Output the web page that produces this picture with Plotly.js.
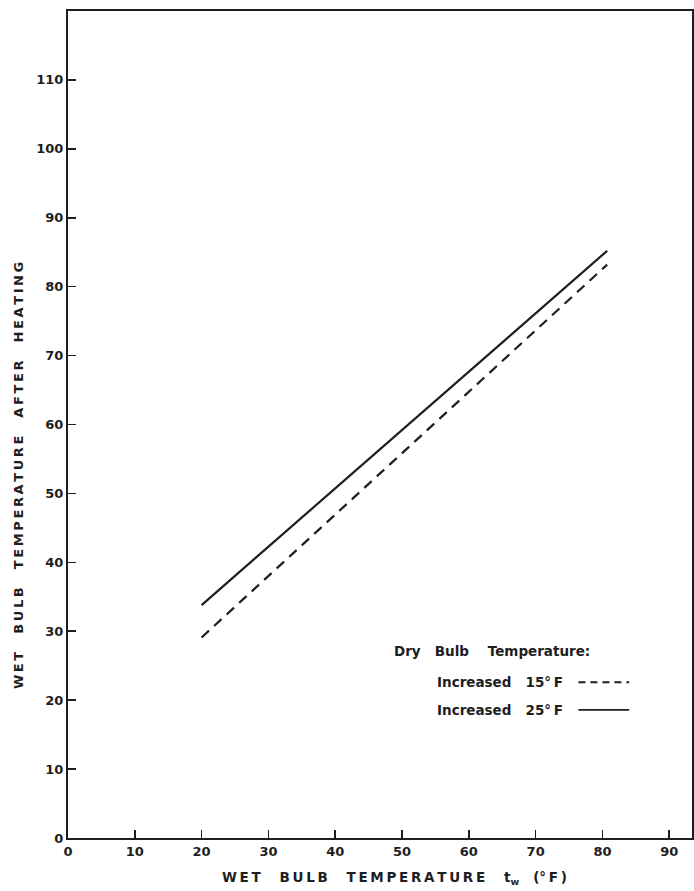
<!DOCTYPE html>
<html>
<head>
<meta charset="utf-8">
<script src="https://cdn.plot.ly/plotly-3.0.1.min.js"></script>
<style>html,body{margin:0;padding:0;background:#fff;}#chart{width:694px;height:891px;}</style>
</head>
<body>
<div id="chart"></div>
<script>
// Data
const wetBulbIn = [20, 80.7];
const afterHeating15 = [29.1, 83.2];
const afterHeating25 = [33.8, 85.2];
const xTickVals = [0, 10, 20, 30, 40, 50, 60, 70, 80, 90];
const yTickVals = [0, 10, 20, 30, 40, 50, 60, 70, 80, 90, 100, 110];
const legendTitle = "Dry\u00a0\u00a0\u00a0Bulb\u00a0\u00a0\u00a0\u00a0Temperature:";
const seriesLabels = ["Increased\u00a0\u00a0\u00a015\u00b0\u2009F", "Increased\u00a0\u00a0\u00a025\u00b0\u2009F"];

const ink = "#1e1e1e";
const fam = "DejaVu Sans, sans-serif";

function spaced(s) {
  return s.split(" ").map(w => w.split("").join("\u2009")).join("\u00a0\u00a0\u00a0\u00a0");
}

const traces = [
  {x: wetBulbIn, y: afterHeating15, mode: "lines", name: seriesLabels[0],
   line: {color: ink, width: 2.2, dash: "10px,7px"}, showlegend: false},
  {x: wetBulbIn, y: afterHeating25, mode: "lines", name: seriesLabels[1],
   line: {color: ink, width: 2.2}, showlegend: false}
];

const layout = {
  width: 694, height: 891,
  margin: {l: 68, r: 2, t: 11, b: 53},
  paper_bgcolor: "#fff", plot_bgcolor: "#fff",
  font: {family: fam, color: ink, size: 12},
  xaxis: {
    range: [0, 93.4], tickvals: xTickVals, ticks: "inside", ticklen: 8, tickwidth: 1.6,
    tickcolor: ink, showline: true, linecolor: ink, linewidth: 2, mirror: true,
    showgrid: false, zeroline: false, tickfont: {size: 13, family: fam, weight: "bold"}
  },
  yaxis: {
    range: [0, 120], tickvals: yTickVals, ticks: "inside", ticklen: 8, tickwidth: 1.6,
    tickcolor: ink, showline: true, linecolor: ink, linewidth: 2, mirror: true,
    showgrid: false, zeroline: false, tickfont: {size: 13, family: fam, weight: "bold"}
  },
  showlegend: false,
  annotations: [
    {xref: "paper", yref: "paper", x: -0.08, y: 0.4377, xanchor: "center", yanchor: "middle",
     textangle: -90, showarrow: false,
     text: spaced("WET BULB TEMPERATURE AFTER HEATING"), font: {size: 13, family: fam, weight: "bold"}},
    {xref: "paper", yref: "paper", x: 0.524, y: -0.0484, xanchor: "center", yanchor: "middle",
     showarrow: false,
     text: spaced("WET BULB TEMPERATURE") + "\u00a0\u00a0\u00a0\u00a0t<sub>w</sub>\u00a0\u00a0\u00a0(\u00b0\u2009F\u2009)",
     font: {size: 13.5, family: fam, weight: "bold"}},
    {xref: "x", yref: "y", x: 48.5, y: 27.1, xanchor: "left", yanchor: "middle", showarrow: false,
     text: legendTitle, font: {size: 13.5, family: fam, weight: "bold"}},
    {xref: "x", yref: "y", x: 54.9, y: 22.6, xanchor: "left", yanchor: "middle", showarrow: false,
     text: seriesLabels[0], font: {size: 13.5, family: fam, weight: "bold"}},
    {xref: "x", yref: "y", x: 54.9, y: 18.6, xanchor: "left", yanchor: "middle", showarrow: false,
     text: seriesLabels[1], font: {size: 13.5, family: fam, weight: "bold"}}
  ],
  shapes: [
    {type: "line", xref: "x", yref: "y", x0: 76.4, x1: 84.0, y0: 22.6, y1: 22.6,
     line: {color: ink, width: 1.8, dash: "7px,5px"}},
    {type: "line", xref: "x", yref: "y", x0: 76.4, x1: 84.0, y0: 18.6, y1: 18.6,
     line: {color: ink, width: 1.8}}
  ]
};

Plotly.newPlot("chart", traces, layout, {staticPlot: true, displayModeBar: false});
</script>
</body>
</html>
